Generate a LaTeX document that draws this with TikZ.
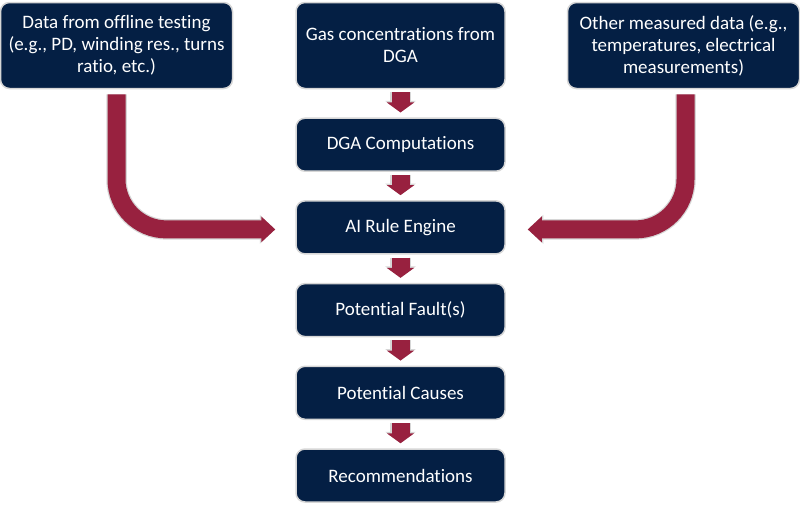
\documentclass[tikz,border=0pt]{standalone}
\usepackage{fontspec}
\setmainfont{Carlito}[Ligatures=NoCommon]
\usetikzlibrary{positioning,arrows.meta}
\definecolor{navy}{RGB}{4,31,68}
\definecolor{wine}{RGB}{152,33,63}
\definecolor{rim}{RGB}{214,214,214}
\tikzstyle{block} = [draw=rim, line width=1.5pt, fill=navy, rounded corners=9pt, text=white, align=center, font=\fontsize{19}{22}\selectfont, minimum width=209pt, minimum height=53pt, inner sep=2pt]
\tikzstyle{srcblock} = [block, minimum height=86pt]
\tikzstyle{flow} = [draw=wine, line width=18pt, shorten <=3pt, shorten >=5pt, -{Triangle[width=27pt,length=10pt]}, preaction={draw=rim, line width=20.5pt, -{Triangle[width=30pt,length=11.5pt]}}]
\tikzstyle{bigflow} = [draw=wine, line width=18pt, rounded corners=50pt, -{Triangle[width=25pt,length=14pt]}, preaction={draw=rim, line width=20.5pt, -{Triangle[width=28pt,length=15.5pt]}}]

\begin{document}
\begin{tikzpicture}[x=1pt, y=1pt, node distance=28.2pt]
\useasboundingbox (0,0) rectangle (800,-504);
% inputs
\node[srcblock] (gas) at (400.5,-45.5) {Gas concentrations from\\DGA};
\node[srcblock, minimum width=232pt, left=62pt of gas] (offline) {Data from offline testing\\(e.g., PD, winding res., turns\\ratio, etc.)};
\node[srcblock, minimum width=232pt, right=61pt of gas] (measured) {Other measured data (e.g.,\\temperatures, electrical\\measurements)};
% main column
\node[block, below=of gas] (dgacomp) {DGA Computations};
\node[block, below=of dgacomp] (engine) {AI Rule Engine};
\node[block, below=of engine] (fault) {Potential Fault(s)};
\node[block, below=of fault] (causes) {Potential Causes};
\node[block, below=of causes] (recs) {Recommendations};
\draw[flow] (gas) -- (dgacomp);
\draw[flow] (dgacomp) -- (engine);
\draw[flow] (engine) -- (fault);
\draw[flow] (fault) -- (causes);
\draw[flow] (causes) -- (recs);
% side inputs
\draw[bigflow] ([yshift=-5pt]offline.south) |- ([xshift=-20pt,yshift=-2pt]engine.west);
\draw[bigflow] ([xshift=2pt,yshift=-5pt]measured.south) |- ([xshift=22pt,yshift=-2pt]engine.east);
\end{tikzpicture}
\end{document}
